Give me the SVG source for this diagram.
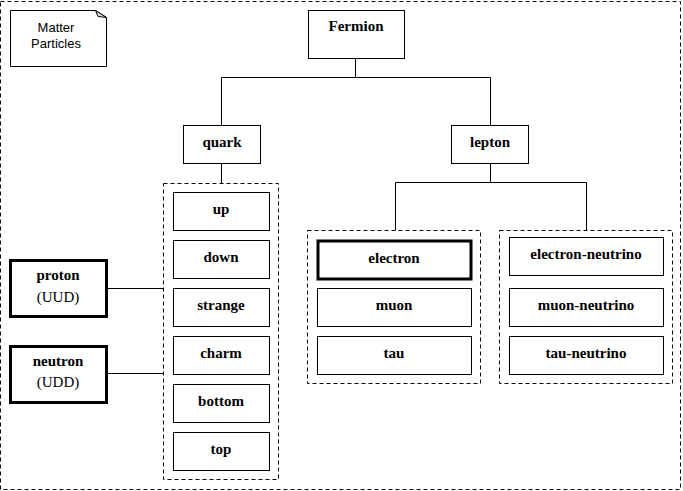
<svg xmlns="http://www.w3.org/2000/svg" width="683" height="491" viewBox="0 0 683 491">
<style>
.bg{fill:#fff}
.box{fill:#fff;stroke:#000;stroke-width:1}
.thick{fill:#fff;stroke:#000;stroke-width:3}
.grp{fill:none;stroke:#000;stroke-width:1;stroke-dasharray:4 3}
.t{font-family:"Liberation Serif",serif;font-weight:bold;font-size:15px;text-anchor:middle;fill:#000}
.n{font-family:"Liberation Serif",serif;font-size:15px;text-anchor:middle;fill:#000}
.s{font-family:"Liberation Sans",Arial,sans-serif;font-size:13px;text-anchor:middle;fill:#000}
.c{fill:none;stroke:#000;stroke-width:1}
</style>
<rect class="bg" x="0" y="0" width="683" height="491"/>
<rect class="grp" x="0.5" y="1.5" width="680" height="488"/>
<g id="note">
<path class="box" d="M10.5,10.5 H95.5 L106.5,17.5 V66.5 H10.5 Z"/>
<path d="M95.5,10.5 L98,16.5 L106.5,17.5 Z" fill="#ddd" stroke="#000" stroke-width="1"/>
<text class="s" x="56" y="32">Matter</text>
<text class="s" x="56" y="48">Particles</text>
</g>
<g id="connectors">
<path class="c" d="M355.5,58 V77.5 M221.5,77.5 H490.5 M221.5,77.5 V125 M490.5,77.5 V125"/>
<path class="c" d="M221.5,164 V183"/>
<path class="c" d="M490.5,164 V182.5 M395.5,182.5 H586.5 M395.5,182.5 V230 M586.5,182.5 V230"/>
<path class="c" d="M107,288.5 H163 M107,373.5 H163"/>
</g>
<g id="fermion"><rect class="box" x="308.5" y="10.5" width="96" height="48"/><text class="t" x="356" y="31">Fermion</text></g>
<g id="quark"><rect class="box" x="183.5" y="125.5" width="77" height="38"/><text class="t" x="222" y="147">quark</text></g>
<g id="lepton"><rect class="box" x="451.5" y="125.5" width="77" height="38"/><text class="t" x="490" y="147">lepton</text></g>
<g id="quarks">
<rect class="grp" x="163.5" y="183.5" width="115" height="296"/>
</g>
<g id="up"><rect class="box" x="173.5" y="192.5" width="96" height="38"/><text class="t" x="221" y="214">up</text></g>
<g id="down"><rect class="box" x="173.5" y="240.5" width="96" height="38"/><text class="t" x="221" y="262">down</text></g>
<g id="strange"><rect class="box" x="173.5" y="288.5" width="96" height="38"/><text class="t" x="221" y="310">strange</text></g>
<g id="charm"><rect class="box" x="173.5" y="336.5" width="96" height="38"/><text class="t" x="221" y="358">charm</text></g>
<g id="bottom"><rect class="box" x="173.5" y="384.5" width="96" height="38"/><text class="t" x="221" y="406">bottom</text></g>
<g id="top"><rect class="box" x="173.5" y="432.5" width="96" height="38"/><text class="t" x="221" y="454">top</text></g>
<g id="proton"><rect class="thick" x="10.5" y="260.5" width="96" height="56"/><text class="t" x="58" y="280">proton</text><text class="n" x="58" y="302">(UUD)</text></g>
<g id="neutron"><rect class="thick" x="10.5" y="346.5" width="96" height="56"/><text class="t" x="58" y="366">neutron</text><text class="n" x="58" y="387">(UDD)</text></g>
<g id="charged">
<rect class="grp" x="307.5" y="230.5" width="173" height="153"/>
</g>
<g id="electron"><rect class="thick" x="318" y="241" width="153" height="38"/><text class="t" x="394" y="263">electron</text></g>
<g id="muon"><rect class="box" x="317.5" y="288.5" width="154" height="38"/><text class="t" x="394" y="310">muon</text></g>
<g id="tau"><rect class="box" x="317.5" y="336.5" width="154" height="38"/><text class="t" x="394" y="358">tau</text></g>
<g id="neutrinos">
<rect class="grp" x="499.5" y="230.5" width="173" height="153"/>
</g>
<g id="electron-neutrino"><rect class="box" x="509.5" y="237.5" width="154" height="38"/><text class="t" x="586" y="259">electron-neutrino</text></g>
<g id="muon-neutrino"><rect class="box" x="509.5" y="288.5" width="154" height="38"/><text class="t" x="586" y="310">muon-neutrino</text></g>
<g id="tau-neutrino"><rect class="box" x="509.5" y="336.5" width="154" height="38"/><text class="t" x="586" y="358">tau-neutrino</text></g>
</svg>
